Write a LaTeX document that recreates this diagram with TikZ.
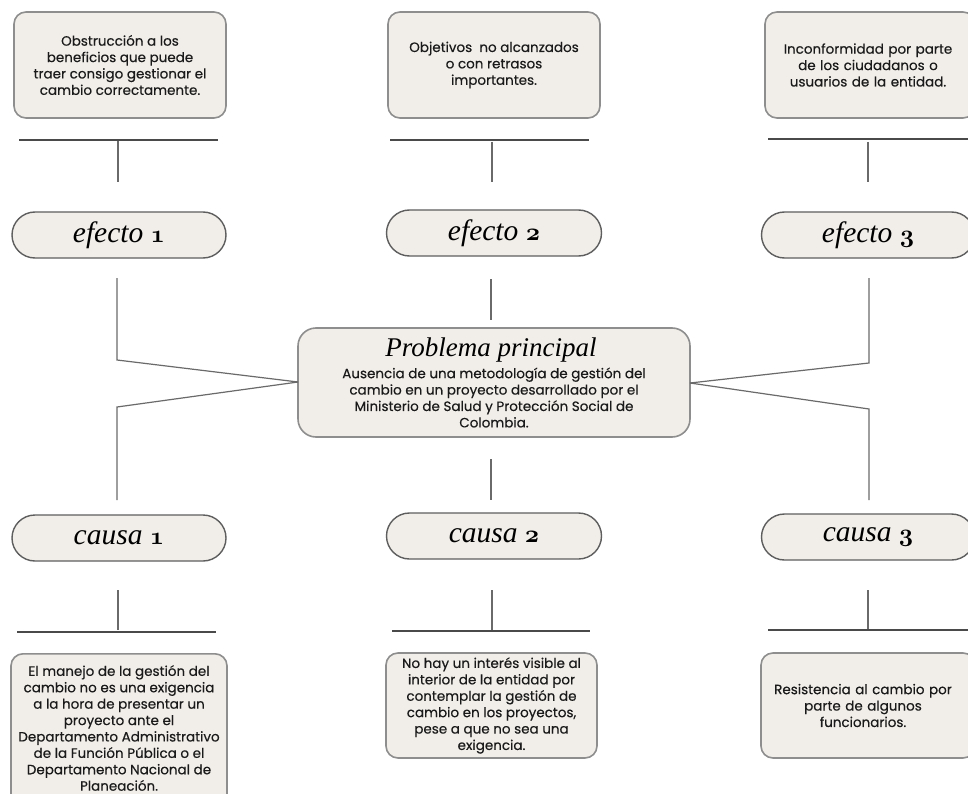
\documentclass[tikz,border=0pt]{standalone}
\usepackage{fontspec}
\setmainfont[FakeBold=0.35]{Poppins}
\newfontfamily\titlefont{Liberation Serif}
\definecolor{boxfill}{HTML}{F1EEE9}
\definecolor{boxline}{HTML}{8E8E8E}
\definecolor{pillline}{HTML}{5E5E5E}
\definecolor{conn}{HTML}{6A6A6A}
\definecolor{hline}{HTML}{4A4A4A}
\definecolor{txt}{HTML}{1A1A1A}
\tikzset{
  infobox/.style={draw=boxline, line width=1.6pt, fill=boxfill, rounded corners=12pt,
    text=txt, align=center, font=\fontsize{13.5}{16.4}\selectfont, inner sep=0pt},
  pill/.style={draw=pillline, line width=1.4pt, fill=boxfill, rounded corners=23pt,
    minimum height=46pt, text=black, inner sep=0pt, font=\titlefont\itshape\fontsize{29.5}{30}\selectfont},
  mainbox/.style={draw=boxline, line width=1.6pt, fill=boxfill, rounded corners=18pt,
    minimum width=392pt, minimum height=109pt, inner sep=0pt},
  connline/.style={draw=conn, line width=1.2pt},
  barline/.style={draw=hline, line width=1.1pt},
}
\newcommand{\onum}[1]{{\boldmath$\mathnormal{#1}$}}
\begin{document}
\begin{tikzpicture}[x=1pt,y=-1pt]
\useasboundingbox (0,0) rectangle (968,794);
\clip (0,0) rectangle (968,794);
\fill[white] (0,0) rectangle (968,794);

% top effect boxes
\node[infobox, minimum width=212pt, minimum height=106pt] (t1) at (120,65)
  {Obstrucción a los\\beneficios que puede\\traer consigo gestionar el\\cambio correctamente.};
\node[infobox, minimum width=212pt, minimum height=106pt] (t2) at (494,65)
  {Objetivos\ \ no alcanzados\\o con retrasos\\importantes.};
\node[infobox, minimum width=210pt, minimum height=106pt, text width=210pt] (t3) at (870,65)
  {\hspace*{-4pt}Inconformidad por parte\\\hspace*{-4pt}de los ciudadanos o\\\hspace*{-4pt}usuarios de la entidad.};

% pills
\node[pill, minimum width=214pt] (e1) at (119,235) {efecto \onum{1}};
\node[pill, minimum width=215pt] (e2) at (494,233) {efecto \onum{2}};
\node[pill, minimum width=213pt] (e3) at (868,235) {efecto \onum{3}};
\node[pill, minimum width=214pt] (c1) at (119,538) {causa \onum{1}};
\node[pill, minimum width=215pt] (c2) at (494,536) {causa \onum{2}};
\node[pill, minimum width=213pt] (c3) at (868,537) {causa \onum{3}};

% main problem
\node[mainbox] (p) at (494,382.5) {};
\node[font=\titlefont\itshape\fontsize{27}{27}\selectfont, anchor=center] (ptitle) at (491,350) {Problema principal};
\node[font=\fontsize{13.5}{16.4}\selectfont, text=txt, align=center, anchor=north] (ptext) at (494,364)
  {Ausencia de una metodología de gestión del\\cambio en un proyecto desarrollado por el\\Ministerio de Salud y Protección Social de\\Colombia.};

% bottom cause boxes
\node[infobox, minimum width=216pt, minimum height=160pt, anchor=north] (b1) at (119,653) {};
\node[font=\fontsize{13.5}{16.4}\selectfont, text=txt, align=center] (b1t) at (119,728)
  {El manejo de la gestión del\\cambio no es una exigencia\\a la hora de presentar un\\proyecto ante el\\Departamento Administrativo\\de la Función Pública o el\\Departamento Nacional de\\Planeación.};
\node[infobox, minimum width=211pt, minimum height=105pt] (b2) at (491.5,705.5)
  {No hay un interés visible al\\interior de la entidad por\\contemplar la gestión de\\cambio en los proyectos,\\pese a que no sea una\\exigencia.};
\node[infobox, minimum width=214pt, minimum height=105pt, text width=214pt] (b3) at (868,705.5)
  {\hspace*{-10pt}Resistencia al cambio por\\\hspace*{-10pt}parte de algunos\\\hspace*{-10pt}funcionarios.};

% coordinates for decorative bars and connectors
\coordinate (h1a) at (19,140);  \coordinate (h1b) at (218,140);
\coordinate (h2a) at (390,140); \coordinate (h2b) at (589,140);
\coordinate (h3a) at (768,139); \coordinate (h3b) at (975,139);
\coordinate (v1a) at (118,141); \coordinate (v1b) at (118,182);
\coordinate (v2a) at (492,142); \coordinate (v2b) at (492,182);
\coordinate (v3a) at (868,142); \coordinate (v3b) at (868,182);

\coordinate (pl) at (298,382);
\coordinate (pr) at (690,383);
\coordinate (l1a) at (117,278); \coordinate (l1b) at (117,360);
\coordinate (l2a) at (117,500); \coordinate (l2b) at (117,407);
\coordinate (r1a) at (869,278); \coordinate (r1b) at (869,363);
\coordinate (r2a) at (869,500); \coordinate (r2b) at (869,409);
\coordinate (m1a) at (491,279); \coordinate (m1b) at (491,320);
\coordinate (m2a) at (491,459); \coordinate (m2b) at (491,500);

\coordinate (bv1a) at (118,590); \coordinate (bv1b) at (118,630);
\coordinate (bv2a) at (492,590); \coordinate (bv2b) at (492,630);
\coordinate (bv3a) at (868,590); \coordinate (bv3b) at (868,630);
\coordinate (bh1a) at (17,632);  \coordinate (bh1b) at (216,632);
\coordinate (bh2a) at (392,631); \coordinate (bh2b) at (590,631);
\coordinate (bh3a) at (768,630); \coordinate (bh3b) at (975,630);

\draw[barline] (h1a) -- (h1b);
\draw[barline] (h2a) -- (h2b);
\draw[barline] (h3a) -- (h3b);
\draw[connline] (v1a) -- (v1b);
\draw[connline] (v2a) -- (v2b);
\draw[connline] (v3a) -- (v3b);

\draw[connline] (l1a) -- (l1b) -- (pl);
\draw[connline] (l2a) -- (l2b) -- (pl);
\draw[connline] (r1a) -- (r1b) -- (pr);
\draw[connline] (r2a) -- (r2b) -- (pr);
\draw[connline] (m1a) -- (m1b);
\draw[connline] (m2a) -- (m2b);

\draw[connline] (bv1a) -- (bv1b);
\draw[connline] (bv2a) -- (bv2b);
\draw[connline] (bv3a) -- (bv3b);
\draw[barline] (bh1a) -- (bh1b);
\draw[barline] (bh2a) -- (bh2b);
\draw[barline] (bh3a) -- (bh3b);
\end{tikzpicture}
\end{document}
